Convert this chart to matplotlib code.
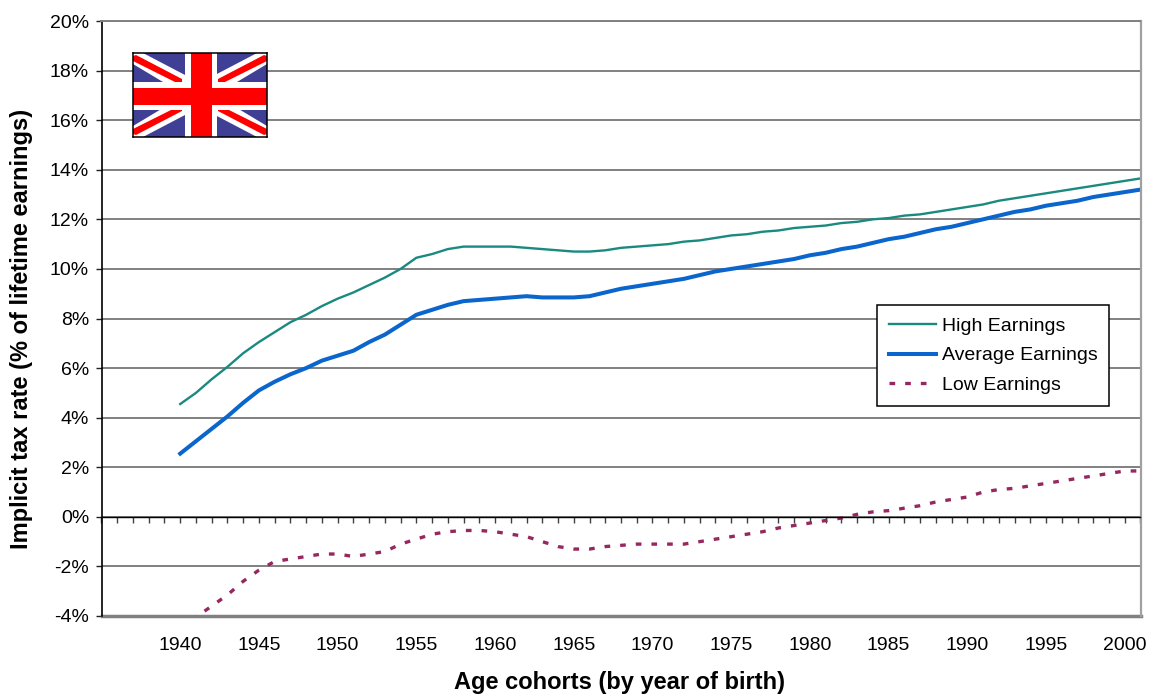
import numpy as np
from matplotlib import pyplot as plt
from matplotlib.patches import Polygon, Rectangle

plt.rcParams["font.family"] = ["Liberation Sans", "DejaVu Sans"]

years = list(range(1940, 2002))
high = [4.55, 5.0, 5.55, 6.05, 6.6, 7.05, 7.45, 7.85, 8.15, 8.5, 8.8, 9.05, 9.35, 9.65, 10.0, 10.45,
        10.6, 10.8, 10.9, 10.9, 10.9, 10.9, 10.85, 10.8, 10.75, 10.7, 10.7, 10.75, 10.85, 10.9, 10.95,
        11.0, 11.1, 11.15, 11.25, 11.35, 11.4, 11.5, 11.55, 11.65, 11.7, 11.75, 11.85, 11.9, 12.0, 12.05,
        12.15, 12.2, 12.3, 12.4, 12.5, 12.6, 12.75, 12.85, 12.95, 13.05, 13.15, 13.25, 13.35, 13.45, 13.55, 13.65]
average = [2.55, 3.05, 3.55, 4.05, 4.6, 5.1, 5.45, 5.75, 6.0, 6.3, 6.5, 6.7, 7.05, 7.35, 7.75, 8.15,
           8.35, 8.55, 8.7, 8.75, 8.8, 8.85, 8.9, 8.85, 8.85, 8.85, 8.9, 9.05, 9.2, 9.3, 9.4,
           9.5, 9.6, 9.75, 9.9, 10.0, 10.1, 10.2, 10.3, 10.4, 10.55, 10.65, 10.8, 10.9, 11.05, 11.2,
           11.3, 11.45, 11.6, 11.7, 11.85, 12.0, 12.15, 12.3, 12.4, 12.55, 12.65, 12.75, 12.9, 13.0, 13.1, 13.2]
low = [-4.6, -4.05, -3.6, -3.15, -2.6, -2.15, -1.8, -1.7, -1.6, -1.5, -1.5, -1.6, -1.5, -1.4, -1.1, -0.9,
       -0.7, -0.6, -0.55, -0.55, -0.6, -0.7, -0.8, -1.0, -1.2, -1.3, -1.3, -1.2, -1.15, -1.1, -1.1,
       -1.1, -1.1, -1.0, -0.9, -0.8, -0.7, -0.6, -0.45, -0.35, -0.25, -0.15, -0.05, 0.1, 0.2, 0.25,
       0.35, 0.45, 0.6, 0.7, 0.8, 1.0, 1.1, 1.15, 1.25, 1.35, 1.45, 1.55, 1.65, 1.75, 1.85, 1.85]

W, H = 1149, 694
fig = plt.figure(figsize=(W / 100, H / 100), dpi=100)
ax = fig.add_axes([101.5 / W, 1 - 616 / H, 1039 / W, 595 / H])

ax.plot(years, high, color="#1a8a80", lw=1.7, label="High Earnings")
ax.plot(years, average, color="#0a66cc", lw=2.9, label="Average Earnings")
ax.plot(years, low, color="#96285f", lw=2.4, dashes=(1.7, 3.0), label="Low Earnings")

ax.set_xlim(1935, 2001)
ax.set_ylim(-4, 20)
ax.set_yticks(np.arange(-4, 21, 2))
ax.set_yticklabels([f"{v}%" for v in range(-4, 21, 2)])
ax.grid(axis="y", color="#808080", lw=1.4)
ax.set_axisbelow(True)

ax.set_xticks(range(1935, 2002))
ax.set_xticklabels([str(y) if y % 5 == 0 and y > 1935 else "" for y in range(1935, 2002)])
ax.tick_params(axis="x", length=4.5, width=1, color="#404040", pad=82, labelsize=14)
ax.tick_params(axis="y", length=4, width=1, color="#202020", pad=5, labelsize=14)

ax.spines["bottom"].set_position(("data", 0))
ax.spines["bottom"].set_color("black")
ax.spines["bottom"].set_linewidth(1.0)
ax.spines["left"].set_linewidth(1.2)
ax.spines["top"].set_color("#808080")
ax.spines["top"].set_linewidth(1.4)
ax.spines["right"].set_color("#a0a0a0")
ax.spines["right"].set_linewidth(1.6)

ax.set_ylabel("Implicit tax rate (% of lifetime earnings)", fontsize=17, fontweight="bold")
ax.yaxis.set_label_coords(-68 / 1039, 0.5 - 22 / 595 + 0.02)
ax.set_xlabel("Age cohorts (by year of birth)", fontsize=17, fontweight="bold")
ax.xaxis.set_label_coords((620 - 101.5) / 1039, -55 / 595)

# bottom gridline sits on the plot edge
ax.axhline(-4, color="#808080", lw=2.5, clip_on=False, zorder=1)

leg = ax.legend(loc="upper left", bbox_to_anchor=((877 - 101.5) / 1039, (616 - 305) / 595),
                fontsize=14, frameon=True, fancybox=False, framealpha=1, edgecolor="black",
                borderaxespad=0, borderpad=0.62, labelspacing=0.62, handlelength=2.4, handletextpad=0.3)
leg.get_frame().set_linewidth(1.1)

# flag
flag = fig.add_axes([133 / W, 1 - 137 / H, 134 / W, 84 / H])
flag.set_xlim(0, 134)
flag.set_ylim(84, 0)
flag.set_xticks([])
flag.set_yticks([])
flag.set_facecolor("#3f3f96")
for s in flag.spines.values():
    s.set_linewidth(1.1)
    s.set_zorder(10)

white_band = [(0, 0), (10, 0), (52, 22), (52, 29), (30, 29), (0, 11)]
red_band = [(3, 2), (49, 26), (49, 29), (42, 29), (0, 8), (0, 3)]
for sx in (False, True):
    for sy in (False, True):
        for pts, c, z in [(white_band, "white", 1), (red_band, "#ff0000", 2)]:
            pp = [(134 - x if sx else x, 84 - y if sy else y) for x, y in pts]
            flag.add_patch(Polygon(pp, closed=True, color=c, lw=0, zorder=z))
flag.add_patch(Rectangle((52, 0), 32, 84, color="white", lw=0, zorder=3))
flag.add_patch(Rectangle((0, 29), 134, 28, color="white", lw=0, zorder=3))
flag.add_patch(Rectangle((58, 0), 21, 84, color="#ff0000", lw=0, zorder=4))
flag.add_patch(Rectangle((0, 35), 134, 17, color="#ff0000", lw=0, zorder=4))

fig.savefig("out.png", dpi=100)
